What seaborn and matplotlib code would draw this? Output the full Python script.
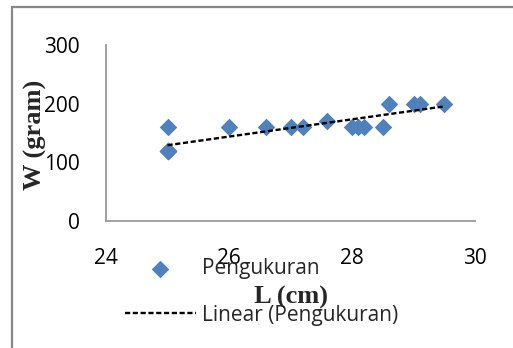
import numpy as np
import pandas as pd
import matplotlib
matplotlib.use("Agg")
import matplotlib.pyplot as plt
from matplotlib.patches import Rectangle
import seaborn as sns

# Length (cm) and weight (gram) measurements
panjang = [25.0, 25.0, 25.0, 25.0, 25.0, 26.0, 26.6, 27.0, 27.2, 27.6,
           28.0, 28.1, 28.2, 28.5, 28.6, 29.0, 29.1, 29.5]
berat = [160, 120, 120, 120, 120, 160, 160, 160, 160, 170,
         160, 160, 160, 160, 200, 200, 200, 200]

x_ticks = [24, 26, 28, 30]
y_ticks = [0, 100, 200, 300]

df = pd.DataFrame({"L": panjang, "W": berat})

sns.set_theme(style="white")
plt.rcParams["font.family"] = ["Open Sans", "DejaVu Sans"]

W_PX, H_PX = 513, 348
fig = plt.figure(figsize=(W_PX / 100, H_PX / 100), dpi=100)
ax = fig.add_axes([106 / W_PX, 1 - 221 / H_PX, 369 / W_PX, 176 / H_PX])

blue = "#4F81BD"
sns.scatterplot(data=df, x="L", y="W", ax=ax, marker="D", s=80,
                color=blue, edgecolor=blue, linewidth=0, label="Pengukuran",
                zorder=3)
sns.regplot(data=df, x="L", y="W", ax=ax, scatter=False, ci=None,
            truncate=True, label="Linear (Pengukuran)",
            line_kws=dict(color="black", lw=1.7, dashes=(2.2, 1.1), zorder=4))

ax.set_xlim(24, 30)
ax.set_ylim(0, 300)
ax.set_xticks(x_ticks)
ax.set_yticks(y_ticks)
ax.tick_params(axis="both", length=0, labelsize=15, colors="black")
ax.tick_params(axis="x", pad=19.5)
ax.tick_params(axis="y", pad=19)

for side in ("top", "right"):
    ax.spines[side].set_visible(False)
for side in ("left", "bottom"):
    ax.spines[side].set_color("#9a9a9a")
    ax.spines[side].set_linewidth(1.3)

label_font = dict(family="Liberation Serif", weight="bold", size=19)
ax.set_xlabel("L (cm)", **label_font)
ax.set_ylabel("W (gram)", **label_font)
ax.xaxis.label.set_va("center")
ax.yaxis.label.set_va("center")
ax.xaxis.set_label_coords((291 - 106) / 369, (221 - 297) / 176)
ax.yaxis.set_label_coords((35 - 106) / 369, (221 - 135) / 176)

handles, labels = ax.get_legend_handles_labels()
if ax.get_legend():
    ax.get_legend().remove()
fig.legend(handles, labels, loc="upper left",
           bbox_to_anchor=(125 / W_PX, 1 - 258 / H_PX),
           frameon=False, fontsize=15, handlelength=3.4, handletextpad=0.3,
           labelspacing=1.23, borderpad=0, borderaxespad=0, scatterpoints=1)

# chart frame
fig.patches.append(Rectangle((12 / W_PX, -0.2), 1.2, 0.2 + 1 - 7 / H_PX,
                             transform=fig.transFigure, fill=False,
                             edgecolor="#878787", lw=1.6, zorder=0))

fig.savefig("out.png", dpi=100)
